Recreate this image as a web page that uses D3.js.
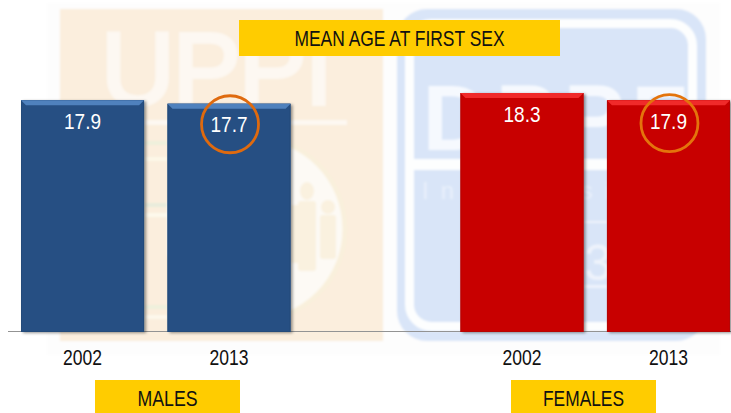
<!DOCTYPE html>
<html><head><meta charset="utf-8">
<script src="https://cdn.jsdelivr.net/npm/d3@7/dist/d3.min.js"></script>
<style>html,body{margin:0;padding:0;background:#fff}svg{display:block}text{font-family:"Liberation Sans",Arial,sans-serif}</style>
</head><body><svg id="c" width="731" height="413"></svg>
<script>
const slots = ["M2002","M2013","gap","F2002","F2013"];
const barKeys = ["M2002","M2013","F2002","F2013"];
const years = ["2002","2013","2002","2013"];
const values = [17.9,17.7,18.3,17.9];
const groups = ["M","M","F","F"];
const highlighted = [false,true,false,true];
const title = "MEAN AGE AT FIRST SEX";
const groupLabels = ["MALES","FEMALES"];

const svg = d3.select("#c");
const x = d3.scaleBand().domain(slots).range([21,730]).paddingInner(0.16).paddingOuter(0);
const y = d3.scaleLinear().domain([5,18.3]).range([331,93]);
const pal = {M:{body:"#265083",top:"#4f81bd",edge:"#234a7a"},F:{body:"#c80505",top:"#f02a2a",edge:"#b80404"}};

const defs = svg.append("defs");
const f = defs.append("filter").attr("id","sh").attr("x","-5%").attr("y","-5%").attr("width","115%").attr("height","110%");
f.append("feDropShadow").attr("dx",2).attr("dy",1).attr("stdDeviation",1.5).attr("flood-color","#000").attr("flood-opacity",0.42);
const blur = defs.append("filter").attr("id","bl"); blur.append("feGaussianBlur").attr("stdDeviation",0.8);
defs.append("clipPath").attr("id","cl").append("rect").attr("x",167).attr("y",0).attr("width",300).attr("height",413);

// watermark
const wm = svg.append("g").attr("filter","url(#bl)");
wm.append("rect").attr("x",47).attr("y",3).attr("width",673).attr("height",352).attr("fill","#fdfdfd");
wm.append("rect").attr("x",60).attr("y",9).attr("width",323).attr("height",332).attr("fill","#fbeedd");
wm.append("text").attr("x",217).attr("y",104).attr("text-anchor","middle").attr("font-size",102).attr("textLength",232).attr("lengthAdjust","spacing").attr("fill","#fdf8f2").attr("stroke","#fdf8f2").attr("stroke-width",4).text("UPPI");
wm.append("rect").attr("x",145).attr("y",120).attr("width",202).attr("height",5).attr("fill","#fdf8f2");
const seal = wm.append("g").attr("clip-path","url(#cl)");
seal.append("circle").attr("cx",253).attr("cy",229).attr("r",92).attr("fill","#fdfaf5").attr("stroke","#f9f0dc").attr("stroke-width",5);
[[141,"#eef0dc"],[157,"#fdf8e8"],[203,"#e8ecdc"],[213,"#fdf9ec"],[305,"#eef0dc"],[315,"#fdf8ec"]].forEach(d=>wm.append("rect").attr("x",145).attr("y",d[0]).attr("width",22).attr("height",4).attr("fill",d[1]));
const fig = "#faf1df";
wm.append("ellipse").attr("cx",307).attr("cy",191).attr("rx",7).attr("ry",9).attr("fill",fig);
wm.append("rect").attr("x",298).attr("y",201).attr("width",18).attr("height",70).attr("rx",3).attr("fill",fig);
wm.append("circle").attr("cx",328).attr("cy",207).attr("r",7).attr("fill",fig);
wm.append("rect").attr("x",320).attr("y",215).attr("width",16).attr("height",44).attr("rx",3).attr("fill",fig);
wm.append("rect").attr("x",291).attr("y",205).attr("width",7).attr("height",58).attr("fill",fig);
wm.append("rect").attr("x",397).attr("y",9).attr("width",309).attr("height",332).attr("rx",30).attr("fill","#d9e5f8");
wm.append("rect").attr("x",409.5).attr("y",23.5).attr("width",283).attr("height",303).attr("rx",22).attr("fill","none").attr("stroke","#fdfefe").attr("stroke-width",9);
wm.append("rect").attr("x",414).attr("y",159).attr("width",275).attr("height",11).attr("fill","#fdfefe");
wm.append("text").attr("x",555).attr("y",150).attr("text-anchor","middle").attr("font-size",92).attr("font-family","Liberation Serif").attr("font-weight","bold").attr("textLength",265).attr("lengthAdjust","spacing").attr("fill","#f6f9fe").text("DPPF");
wm.append("text").attr("x",422).attr("y",199).attr("font-size",24).attr("letter-spacing",12).attr("fill","#e9f0fb").text("Internasional");
wm.append("text").attr("x",598).attr("y",280).attr("text-anchor","middle").attr("font-size",50).attr("fill","#eef3fc").text("3");
wm.append("rect").attr("x",584).attr("y",221).attr("width",23).attr("height",2).attr("fill","#eef3fc");
wm.append("rect").attr("x",584).attr("y",285).attr("width",23).attr("height",3).attr("fill","#eef3fc");

// baseline axis
svg.append("line").attr("x1",8).attr("x2",731).attr("y1",y(5)+0.5).attr("y2",y(5)+0.5).attr("stroke","#939393").attr("stroke-width",1);

// bars
const data = barKeys.map((k,i)=>({k,v:values[i],g:groups[i],yr:years[i],hl:highlighted[i]}));
const bars = svg.append("g").selectAll("g").data(data).join("g");
bars.append("rect").attr("x",d=>x(d.k)).attr("y",d=>y(d.v)).attr("width",x.bandwidth()).attr("height",d=>y(5)-y(d.v)+1)
  .attr("fill",d=>pal[d.g].body).attr("filter","url(#sh)");
bars.append("rect").attr("x",d=>x(d.k)+0.5).attr("y",d=>y(d.v)+0.5).attr("width",x.bandwidth()-1).attr("height",d=>y(5)-y(d.v))
  .attr("fill","none").attr("stroke",d=>pal[d.g].edge).attr("stroke-width",1);
bars.append("path").attr("d",d=>{const a=x(d.k),b=a+x.bandwidth(),t=y(d.v);return `M${a},${t}L${b},${t}L${b-5},${t+5}L${a+5},${t+5}Z`;}).attr("fill",d=>pal[d.g].top);

// value labels
bars.append("text").attr("x",d=>x(d.k)+x.bandwidth()/2).attr("y",d=>y(d.v)+28.5).attr("text-anchor","middle").attr("font-size",22)
  .attr("textLength",37).attr("lengthAdjust","spacingAndGlyphs").attr("fill","#fff").text(d=>d.v.toFixed(1));

// highlight circles
bars.filter(d=>d.hl).append("circle").attr("cx",d=>x(d.k)+x.bandwidth()/2+1).attr("cy",d=>y(d.v)+(d.g==="M"?20.5:23)).attr("r",28.5)
  .attr("fill","none").attr("stroke",d=>d.g==="M"?"#df6a0e":"#e4740c").attr("stroke-width",2.8);

// year tick labels through axis
const axis = d3.axisBottom(x).tickValues(barKeys).tickSize(0).tickPadding(16).tickFormat((k)=>years[barKeys.indexOf(k)]);
const ax = svg.append("g").attr("transform",`translate(0,${y(5)+2})`).call(axis);
ax.select(".domain").remove();
ax.selectAll("text").attr("font-size",22).style("font-family",'"Liberation Sans"').attr("textLength",39).attr("lengthAdjust","spacingAndGlyphs").attr("fill","#111");

// boxes
function box(x0,y0,w,h,t,tw,base){
  svg.append("rect").attr("x",x0).attr("y",y0).attr("width",w).attr("height",h).attr("fill","#ffcc00");
  svg.append("text").attr("x",x0+w/2).attr("y",base).attr("text-anchor","middle").attr("font-size",22)
    .attr("textLength",tw).attr("lengthAdjust","spacingAndGlyphs").attr("fill","#111").text(t);
}
box(239,20,321,36,title,210,46);
box(95,380,145,33,groupLabels[0],60,406);
box(511,380,145,33,groupLabels[1],81,406);
</script></body></html>
